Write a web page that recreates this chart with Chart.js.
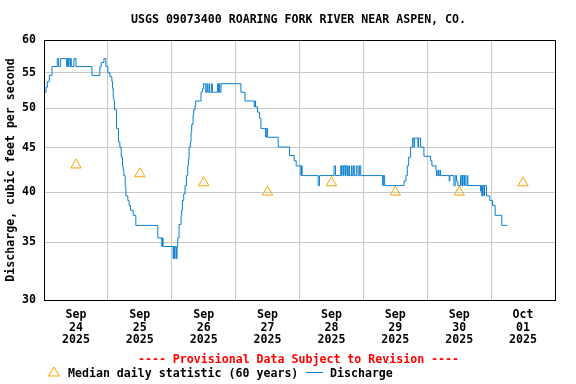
<!DOCTYPE html>
<html>
<head>
<meta charset="utf-8">
<script src="https://cdn.jsdelivr.net/npm/chart.js@4/dist/chart.umd.min.js"></script>
<style>
html,body{margin:0;padding:0;background:#ffffff;}
#wrap{width:576px;height:384px;position:relative;}
</style>
</head>
<body>
<div id="wrap"><canvas id="c" width="576" height="384"></canvas></div>
<script>
// ---- text ----
const chartTitle = 'USGS 09073400 ROARING FORK RIVER NEAR ASPEN, CO.';
const yAxisTitle = 'Discharge, cubic feet per second';
const provisionalNote = '---- Provisional Data Subject to Revision ----';
const legendMedian = 'Median daily statistic (60 years)';
const legendDischarge = 'Discharge';

// ---- axis labels ----
const dayMonths = ['Sep', 'Sep', 'Sep', 'Sep', 'Sep', 'Sep', 'Sep', 'Oct'];
const dayNumbers = ['24', '25', '26', '27', '28', '29', '30', '01'];
const dayYears = ['2025', '2025', '2025', '2025', '2025', '2025', '2025', '2025'];
const yTicks = [30, 35, 40, 45, 50, 55, 60];

// ---- median daily statistic (hours since Sep 24 00:00) ----
const medianHours = [12, 36, 60, 84, 108, 132, 156, 180];
const medianValues = [43, 42, 41, 40, 41, 40, 40, 41];

// ---- discharge, change points (hours since Sep 24 00:00, cfs) ----
const dischargeHours = [
  0.25, 0.75, 1.25, 2.0, 3.0, 5.0, 5.5, 6.25, 8.5, 8.75, 9.0, 9.25, 9.75, 10.0, 10.25, 11.25, 12.0,
  18.0, 21.0, 21.5, 22.5, 23.25, 24.0, 24.75, 25.5, 25.75, 26.0, 26.25, 26.5, 27.25, 28.0, 28.5,
  29.0, 29.5, 29.75, 30.0, 30.5, 30.75, 31.5, 32.0, 32.5, 33.5, 34.5, 42.75, 44.25, 44.5, 44.75,
  48.5, 48.75, 49.0, 49.25, 49.75, 50.0, 50.25, 50.75, 51.5, 51.75, 52.0, 52.5, 53.0, 53.5, 54.0,
  54.25, 54.5, 55.0, 55.25, 55.5, 56.0, 56.25, 56.75, 57.0, 59.0, 59.5, 60.0, 60.75, 61.25, 61.5,
  62.0, 62.25, 63.0, 63.25, 65.25, 65.5, 65.75, 66.0, 66.5, 74.0, 75.5, 79.0, 79.25, 79.5, 80.25,
  81.0, 81.5, 83.25, 83.5, 84.0, 88.0, 92.25, 94.0, 94.75, 96.5, 96.75, 97.0, 103.0, 103.5,
  109.0, 109.5, 111.5, 111.75, 112.0, 112.5, 112.75, 113.25, 113.5, 114.0, 114.5, 114.75, 115.5,
  115.75, 116.25, 116.75, 117.5, 118.0, 118.5, 119.0, 127.25, 127.5, 128.0, 135.25, 136.0, 136.5,
  137.0, 137.75, 138.5, 139.0, 139.25, 140.5, 140.75, 141.5, 142.75, 145.25, 145.75, 147.25,
  147.5, 148.0, 148.25, 148.75, 149.0, 152.25, 152.5, 154.0, 154.5, 155.0, 155.5, 156.5, 157.0,
  157.25, 157.75, 158.0, 158.5, 159.0, 159.25, 164.0, 164.25, 164.5, 164.75, 165.25, 165.5,
  166.25, 167.5, 168.5, 169.5, 172.0, 174.0
];
const dischargeValues = [
  52.2, 52.9, 53.7, 54.6, 55.9, 57.1, 55.9, 57.1, 55.9, 57.1, 55.9, 57.1, 55.9, 57.1, 55.9, 57.1, 55.9,
  54.6, 55.9, 56.5, 57.1, 55.9, 55.0, 54.4, 53.7, 52.7, 51.5, 51.0, 49.8, 47.4, 45.7, 45.1,
  43.9, 42.9, 42.4, 41.8, 40.7, 39.6, 39.1, 38.6, 38.1, 37.6, 36.6, 35.4, 34.6, 35.4, 34.6,
  33.5, 34.6, 33.5, 34.6, 33.5, 34.6, 35.4, 36.7, 37.6, 38.1, 39.1, 39.8, 40.7, 41.8, 42.9,
  43.7, 45.1, 45.7, 46.9, 47.9, 49.1, 49.8, 50.4, 51.0, 52.2, 52.7, 53.4, 52.2, 53.4, 52.2,
  53.4, 52.2, 53.4, 52.2, 53.4, 52.2, 53.4, 52.2, 53.4, 52.2, 51.0, 50.2, 51.0, 50.2, 49.5,
  48.7, 47.4, 46.3, 47.4, 46.3, 45.1, 44.1, 43.5, 42.9, 41.8, 42.9, 41.8, 40.7, 41.8,
  42.9, 41.8, 42.9, 41.8, 42.9, 41.8, 42.9, 41.8, 42.9, 41.8, 42.9, 41.8, 42.9,
  41.8, 42.9, 41.8, 42.9, 41.8, 42.9, 41.8, 40.7, 41.8, 40.7, 41.2, 41.8, 42.9,
  43.9, 45.1, 46.2, 45.1, 46.2, 45.1, 46.2, 45.1, 44.0, 43.5, 42.9, 42.4,
  41.8, 42.4, 41.8, 42.4, 41.8, 41.2, 41.8, 40.7, 41.8, 41.2, 40.7, 41.8, 40.7,
  41.8, 40.7, 41.8, 40.7, 41.8, 40.7, 40.1, 40.7, 39.6, 40.7, 39.6, 40.7,
  39.6, 39.1, 38.6, 37.6, 36.6, 36.6
];

// ---- styles ----
const FONT = '"DejaVu Sans Mono", "Liberation Mono", monospace';
const FSIZE = 11.6;
const BLUE = '#0a7fcf';
const ORANGE = '#ffa000';
const GRID = '#c8c8c8';

const dischargeData = dischargeHours.map((h, i) => ({ x: h, y: dischargeValues[i] }));
const medianData = medianHours.map((h, i) => ({ x: h, y: medianValues[i] }));

const decorPlugin = {
  id: 'decor',
  afterDatasetsDraw(chart) {
    const { ctx, chartArea: a } = chart;
    ctx.save();
    ctx.strokeStyle = '#000';
    ctx.lineWidth = 1;
    ctx.strokeRect(a.left + 0.5, a.top + 0.5, a.right - a.left, a.bottom - a.top);
    ctx.restore();
  },
  afterDraw(chart) {
    const { ctx } = chart;
    ctx.save();
    ctx.font = 'bold ' + FSIZE + 'px ' + FONT;
    ctx.textBaseline = 'middle';
    ctx.textAlign = 'center';
    ctx.fillStyle = '#000';
    ctx.fillText(chartTitle, 298.5, 20);
    ctx.fillStyle = '#ff0000';
    ctx.fillText(provisionalNote, 298.5, 359.5);
    // legend
    ctx.textAlign = 'left';
    ctx.fillStyle = '#000';
    ctx.fillText(legendMedian, 68, 373.5);
    ctx.fillText(legendDischarge, 330, 373.5);
    ctx.strokeStyle = ORANGE;
    ctx.lineWidth = 1;
    ctx.beginPath();
    ctx.moveTo(54, 367);
    ctx.lineTo(59.5, 376);
    ctx.lineTo(48.5, 376);
    ctx.closePath();
    ctx.stroke();
    ctx.strokeStyle = BLUE;
    ctx.beginPath();
    ctx.moveTo(306, 372.5);
    ctx.lineTo(323, 372.5);
    ctx.stroke();
    ctx.restore();
  }
};

new Chart(document.getElementById('c'), {
  type: 'line',
  data: {
    datasets: [
      {
        label: legendMedian,
        data: medianData,
        showLine: false,
        pointStyle: 'triangle',
        pointRadius: 6,
        pointBorderWidth: 1,
        borderColor: ORANGE,
        backgroundColor: 'rgba(0,0,0,0)',
        pointBackgroundColor: 'rgba(0,0,0,0)'
      },
      {
        label: legendDischarge,
        data: dischargeData,
        stepped: true,
        borderColor: BLUE,
        borderWidth: 1,
        pointRadius: 0,
        fill: false
      }
    ]
  },
  options: {
    responsive: false,
    animation: false,
    layout: { padding: { top: 40, right: 21, bottom: 0, left: 0 } },
    plugins: { legend: { display: false }, title: { display: false }, tooltip: { enabled: false } },
    scales: {
      x: {
        type: 'linear',
        min: 0,
        max: 192,
        afterBuildTicks: (s) => { const t = []; for (let v = 0; v <= 192; v += 12) t.push({ value: v }); s.ticks = t; },
        afterFit: (s) => { s.height = 84; },
        border: { display: false },
        grid: {
          drawTicks: false,
          color: (c) => (c.tick && c.tick.value % 24 === 0 && c.tick.value > 0 && c.tick.value < 192) ? GRID : 'rgba(0,0,0,0)',
          lineWidth: 1
        },
        ticks: {
          autoSkip: false,
          maxRotation: 0,
          padding: 8.5,
          color: '#000',
          font: { family: FONT, size: FSIZE, weight: 'bold', lineHeight: 1.1 },
          callback: (v) => {
            if (v % 24 !== 12) return '';
            const i = (v - 12) / 24;
            return [dayMonths[i], dayNumbers[i], dayYears[i]];
          }
        }
      },
      y: {
        type: 'logarithmic',
        min: 30,
        max: 60,
        afterBuildTicks: (s) => { s.ticks = yTicks.map((v) => ({ value: v })); },
        afterFit: (s) => { s.width = 44; },
        border: { display: false },
        grid: {
          drawTicks: false,
          color: (c) => (c.tick && c.tick.value > 30 && c.tick.value < 60) ? GRID : 'rgba(0,0,0,0)',
          lineWidth: 1
        },
        ticks: {
          padding: 8,
          color: '#000',
          font: { family: FONT, size: FSIZE, weight: 'bold' },
          callback: (v) => String(v)
        },
        title: {
          display: true,
          text: yAxisTitle,
          color: '#000',
          padding: { top: 4, bottom: 0 },
          font: { family: FONT, size: FSIZE, weight: 'bold' }
        }
      }
    }
  },
  plugins: [decorPlugin]
});
</script>
</body>
</html>
